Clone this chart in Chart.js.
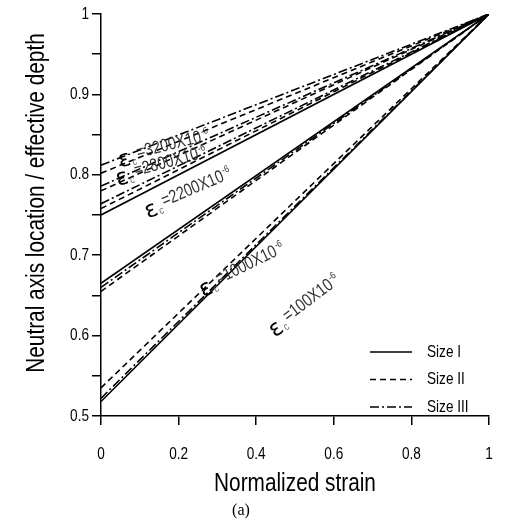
<!DOCTYPE html>
<html><head><meta charset="utf-8">
<script src="https://cdn.jsdelivr.net/npm/chart.js@4/dist/chart.umd.min.js"></script>
<style>html,body{margin:0;padding:0;background:#fff}#wrap{width:510px;height:525px}</style>
</head><body><div id="wrap"><canvas id="c" width="510" height="525"></canvas></div>
<script>
// ---- data ----
const strainLevels = ['100', '1000', '2200', '2800', '3200'];
const sizeNames = ['Size I', 'Size II', 'Size III'];
const normalizedStrain = [0, 1];
// neutral-axis depth ratio at normalized strain 0 and 1, per strain level
const sizeIStart   = [0.518, 0.665, 0.750, null, null];
const sizeIIStart  = [0.535, 0.655, 0.758, 0.780, 0.802];
const sizeIIIStart = [0.522, 0.660, 0.764, 0.786, 0.812];
const endRatio = 1.0;
const xTickValues = [0, 0.2, 0.4, 0.6, 0.8, 1];
const yTickValues = [0.5, 0.6, 0.7, 0.8, 0.9, 1];
// label anchors (normalized strain, ratio) and text angle, per strain level
const labelX = [0.441, 0.258, 0.116, 0.040, 0.046];
const labelY = [0.602, 0.653, 0.751, 0.792, 0.815];
const labelAngle = [-37, -26, -23, -15, -14];

const SQ = 0.8; // horizontal squeeze to mimic a narrow sans face
const FAM = '"Liberation Sans", Arial, sans-serif';
const dashes = [[], [6, 4], [9, 3, 2, 3]];
const starts = [sizeIStart, sizeIIStart, sizeIIIStart];

const datasets = [];
starts.forEach((arr, si) => {
  arr.forEach((v, li) => {
    if (v === null) return;
    datasets.push({
      label: sizeNames[si] + ' ' + strainLevels[li],
      data: normalizedStrain.map((x, i) => ({x: x, y: i === 0 ? v : endRatio})),
      borderColor: '#000', borderWidth: 1.6, borderDash: dashes[si],
      pointRadius: 0, fill: false, tension: 0
    });
  });
});

// narrow text helper: draws at (x,y), returns advance width
function narrow(ctx, text, x, y, size, align, color) {
  ctx.save();
  ctx.font = size + 'px ' + FAM;
  ctx.fillStyle = color || '#000';
  const w = ctx.measureText(text).width * SQ;
  let sx = x;
  if (align === 'center') sx = x - w / 2;
  else if (align === 'right') sx = x - w;
  ctx.translate(sx, y);
  ctx.scale(SQ, 1);
  ctx.textAlign = 'left';
  ctx.fillText(text, 0, 0);
  ctx.restore();
  return w;
}

const annot = {
  id: 'annot',
  afterDraw(chart) {
    const ctx = chart.ctx, xs = chart.scales.x, ys = chart.scales.y, ca = chart.chartArea;
    ctx.save();
    ctx.textBaseline = 'middle';
    // tick labels
    xTickValues.forEach(v => narrow(ctx, String(v), xs.getPixelForValue(v), ca.bottom + 38, 17, 'center'));
    yTickValues.forEach(v => narrow(ctx, String(v), ca.left - 12, ys.getPixelForValue(v), 17, 'right'));
    // axis titles
    narrow(ctx, 'Normalized strain', (ca.left + ca.right) / 2, ca.bottom + 68, 26, 'center');
    ctx.save();
    ctx.translate(37, 203);
    ctx.rotate(-Math.PI / 2);
    narrow(ctx, 'Neutral axis location / effective depth', 0, 0, 26, 'center');
    ctx.restore();
    // strain labels
    ctx.textBaseline = 'alphabetic';
    strainLevels.forEach((lv, i) => {
      const px = xs.getPixelForValue(labelX[i]), py = ys.getPixelForValue(labelY[i]);
      ctx.save();
      ctx.translate(px, py);
      ctx.rotate(labelAngle[i] * Math.PI / 180);
      let x = 0;
      ctx.fillStyle = '#000'; ctx.font = '23px "DejaVu Sans", sans-serif'; ctx.textAlign = 'left';
      ctx.fillText('ε', x, 5); x += ctx.measureText('ε').width + 1;
      x += narrow(ctx, 'c', x, 6, 11, 'left', '#666') + 2;
      x += narrow(ctx, '=' + lv + 'X10', x, 0, 18, 'left', '#333') + 1;
      narrow(ctx, '-6', x, -7, 10, 'left', '#333');
      ctx.restore();
    });
    // legend
    ctx.textBaseline = 'middle';
    sizeNames.forEach((n, i) => {
      const y = ca.bottom - 64 + i * 27.5;
      ctx.beginPath(); ctx.setLineDash(dashes[i]); ctx.lineWidth = 1.6; ctx.strokeStyle = '#000';
      ctx.moveTo(ca.right - 119, y); ctx.lineTo(ca.right - 77, y); ctx.stroke();
      ctx.setLineDash([]);
      narrow(ctx, n, ca.right - 62, y, 17, 'left');
    });
    // caption
    ctx.font = '16px "Liberation Serif", "Times New Roman", serif';
    ctx.fillStyle = '#000'; ctx.textAlign = 'center';
    ctx.fillText('(a)', 241, 511);
    ctx.restore();
  }
};

new Chart(document.getElementById('c'), {
  type: 'line',
  data: {datasets},
  plugins: [annot],
  options: {
    responsive: false, animation: false, devicePixelRatio: 1,
    layout: {padding: {top: 14, right: 21, left: 0, bottom: 0}},
    plugins: {legend: {display: false}, tooltip: {enabled: false}},
    scales: {
      x: {
        type: 'linear', min: 0, max: 1,
        afterFit(s) { s.height = 109; },
        afterBuildTicks(s) { s.ticks = xTickValues.map(v => ({value: v})); },
        grid: {display: true, drawOnChartArea: false, drawTicks: true, tickLength: 9, color: '#000', lineWidth: 1.5},
        border: {display: true, color: '#000', width: 1.5},
        ticks: {display: false}
      },
      y: {
        type: 'linear', min: 0.5, max: 1,
        afterFit(s) { s.width = 101; },
        afterBuildTicks(s) {
          const t = [];
          for (let k = 0; k <= 10; k++) t.push({value: 0.5 + k * 0.05});
          s.ticks = t;
        },
        grid: {display: true, drawOnChartArea: false, drawTicks: true, tickLength: 9, color: '#000', lineWidth: 1.5},
        border: {display: true, color: '#000', width: 1.5},
        ticks: {display: false}
      }
    }
  }
});
</script></body></html>
